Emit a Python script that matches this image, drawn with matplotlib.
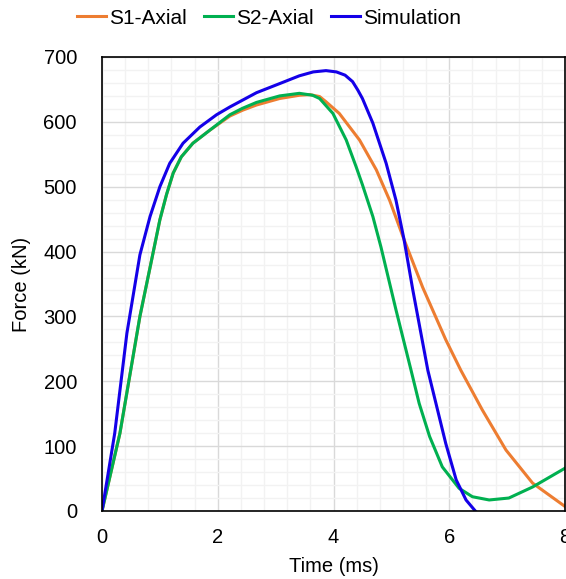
import matplotlib.pyplot as plt
from matplotlib.ticker import MultipleLocator

plt.rcParams['font.family'] = ['Liberation Sans', 'DejaVu Sans']

# S1-Axial (orange)
t_s1 = [0, 0.31, 0.655, 0.857, 1.0, 1.115, 1.23, 1.37, 1.57, 1.86, 2.21, 2.43,
        2.67, 3.07, 3.41, 3.59, 3.76, 3.87, 4.10, 4.45, 4.74, 4.97, 5.2, 5.54,
        5.94, 6.2, 6.57, 6.98, 7.44, 8.0]
f_s1 = [0, 120, 300, 387, 449, 488, 521, 546, 567, 587, 609, 618,
        626, 636, 641, 642, 639, 631, 613, 572, 526, 479, 423, 345,
        264, 217, 156, 94, 43, 7]

# S2-Axial (green)
t_s2 = [0, 0.31, 0.655, 0.857, 1.0, 1.115, 1.23, 1.37, 1.57, 1.86, 2.21, 2.43,
        2.67, 3.07, 3.41, 3.64, 3.76, 3.99, 4.22, 4.39, 4.5, 4.68, 4.82, 5.08,
        5.34, 5.48, 5.66, 5.88, 6.17, 6.4, 6.69, 7.03, 7.44, 8.0]
f_s2 = [0, 120, 300, 387, 449, 488, 521, 546, 567, 587, 611, 621,
        630, 640, 644, 641, 636, 613, 572, 531, 503, 454, 407, 310,
        217, 166, 115, 68, 35, 22, 17, 20, 37, 66]

# Simulation (blue)
t_sim = [0, 0.22, 0.43, 0.655, 0.83, 1.0, 1.17, 1.40, 1.69, 1.98, 2.21, 2.67,
         3.07, 3.41, 3.65, 3.87, 4.05, 4.2, 4.33, 4.42, 4.5, 4.68, 4.91, 5.08,
         5.22, 5.37, 5.63, 5.77, 5.94, 6.12, 6.29, 6.46, 6.8, 7.2, 7.6, 8.0]
f_sim = [0, 120, 274, 395, 454, 500, 536, 567, 592, 611, 623, 645,
         659, 671, 677, 679, 677, 672, 662, 649, 636, 598, 536, 479,
         418, 341, 217, 166, 104, 48, 17, -1, -35, -45, -30, -2]

fig = plt.figure(figsize=(5.66, 5.79), dpi=100)
ax = fig.add_axes([102 / 566, 1 - 511 / 579, 463 / 566, 454 / 579])

ax.plot(t_s1, f_s1, color='#ED7D31', lw=2.2, label='S1-Axial')
ax.plot(t_s2, f_s2, color='#00B050', lw=2.2, label='S2-Axial')
ax.plot(t_sim, f_sim, color='#1400E8', lw=2.2, label='Simulation')

ax.set_xlim(0, 8)
ax.set_ylim(0, 700)
ax.xaxis.set_major_locator(MultipleLocator(2))
ax.xaxis.set_minor_locator(MultipleLocator(0.4))
ax.yaxis.set_major_locator(MultipleLocator(100))
ax.yaxis.set_minor_locator(MultipleLocator(20))
ax.grid(which='major', color='#D9D9D9', lw=1)
ax.grid(which='minor', color='#F2F2F2', lw=1)
ax.set_axisbelow(True)
ax.tick_params(which='both', length=0, labelsize=14.5)
ax.tick_params(axis='y', pad=18)
ax.tick_params(axis='x', pad=12)
for s in ax.spines.values():
    s.set_color('black')
    s.set_linewidth(1.2)

ax.set_xlabel('Time (ms)', fontsize=14.5, va='center')
ax.xaxis.set_label_coords(0.5, -(567 - 511) / 454)
ax.set_ylabel('Force (kN)', fontsize=14.5, va='center')
ax.yaxis.set_label_coords(-(102 - 22) / 463, 0.5)

fig.legend(loc='center', bbox_to_anchor=(269 / 566, 1 - 18 / 579), ncol=3,
           frameon=False, fontsize=15, handlelength=1.4, handletextpad=0.12,
           columnspacing=0.85)

fig.savefig('out.png', dpi=100)
